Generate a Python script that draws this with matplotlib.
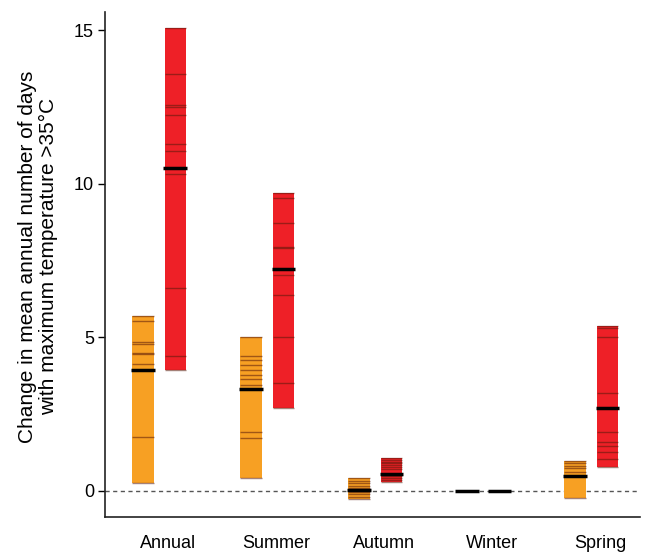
import matplotlib
matplotlib.use("Agg")
import matplotlib.pyplot as plt

plt.rcParams['font.family'] = ['Liberation Sans', 'DejaVu Sans']

seasons = ["Annual", "Summer", "Autumn", "Winter", "Spring"]

# ensemble member values (orange = lower scenario, red = higher scenario)
orange_members = {
    "Annual": [5.69, 5.53, 4.86, 4.80, 4.48, 4.45, 4.13, 1.76, 0.26],
    "Summer": [5.02, 4.40, 4.25, 4.10, 3.94, 3.77, 3.64, 3.46, 1.91, 1.71, 0.43],
    "Autumn": [0.41, 0.33, 0.25, 0.15, 0.08, -0.02, -0.10, -0.20, -0.27],
    "Winter": [0.0, 0.0],
    "Spring": [0.98, 0.90, 0.81, 0.73, 0.63, -0.22],
}
red_members = {
    "Annual": [15.09, 13.57, 12.56, 12.50, 12.23, 11.30, 11.07, 10.33, 6.62, 4.39, 3.94],
    "Summer": [9.69, 9.55, 8.71, 7.95, 7.90, 7.04, 6.39, 5.01, 3.50, 2.70],
    "Autumn": [1.06, 1.00, 0.95, 0.90, 0.85, 0.78, 0.70, 0.48, 0.42, 0.36, 0.30],
    "Winter": [0.0, 0.0],
    "Spring": [5.37, 5.30, 5.02, 3.20, 1.91, 1.58, 1.47, 1.28, 1.04, 0.79],
}
orange_median = [3.93, 3.33, 0.03, 0.0, 0.47]
red_median = [10.52, 7.22, 0.54, 0.0, 2.69]

orange_color = "#F7A023"
red_color = "#EE2027"

fig = plt.figure(figsize=(6.53, 5.52), dpi=100)
ax = fig.add_axes([0.161, 0.0634, 0.819, 0.915])

width = 0.2
offset = 0.15

for i, s in enumerate(seasons):
    for vals, med, col, dx in [(orange_members[s], orange_median[i], orange_color, -offset),
                               (red_members[s], red_median[i], red_color, offset)]:
        x = i + dx
        lo, hi = min(vals), max(vals)
        if hi > lo:
            ax.bar(x, hi - lo, bottom=lo, width=width, color=col, edgecolor='none', zorder=2)
            for v in vals:
                ax.hlines(v, x - width / 2, x + width / 2, color='#5a1a0a', alpha=0.55,
                          linewidth=1.0, zorder=3)
        ax.hlines(med, x - width / 2 - 0.01, x + width / 2 + 0.01, color='black',
                  linewidth=2.5, zorder=4)

ax.axhline(0, color='#555555', linestyle=(0, (3, 2.5)), linewidth=1.0, zorder=1)

ax.set_xlim(-0.5, 4.45)
ax.set_ylim(-0.85, 15.6)
ax.set_yticks([0, 5, 10, 15])
ax.set_xticks([i + 0.08 for i in range(len(seasons))])
ax.set_xticklabels(seasons, fontsize=13)
ax.tick_params(axis='x', length=0, pad=13)
ax.tick_params(axis='y', labelsize=13, length=5, width=1, direction='out', pad=3)

for sp in ['top', 'right']:
    ax.spines[sp].set_visible(False)
for sp in ['left', 'bottom']:
    ax.spines[sp].set_linewidth(1.2)
    ax.spines[sp].set_color('#222222')

ax.set_ylabel("Change in mean annual number of days\nwith maximum temperature >35°C",
              fontsize=15, linespacing=1.15)
ax.yaxis.set_label_coords(-0.088, 0.515)

fig.savefig("out.png", dpi=100)
